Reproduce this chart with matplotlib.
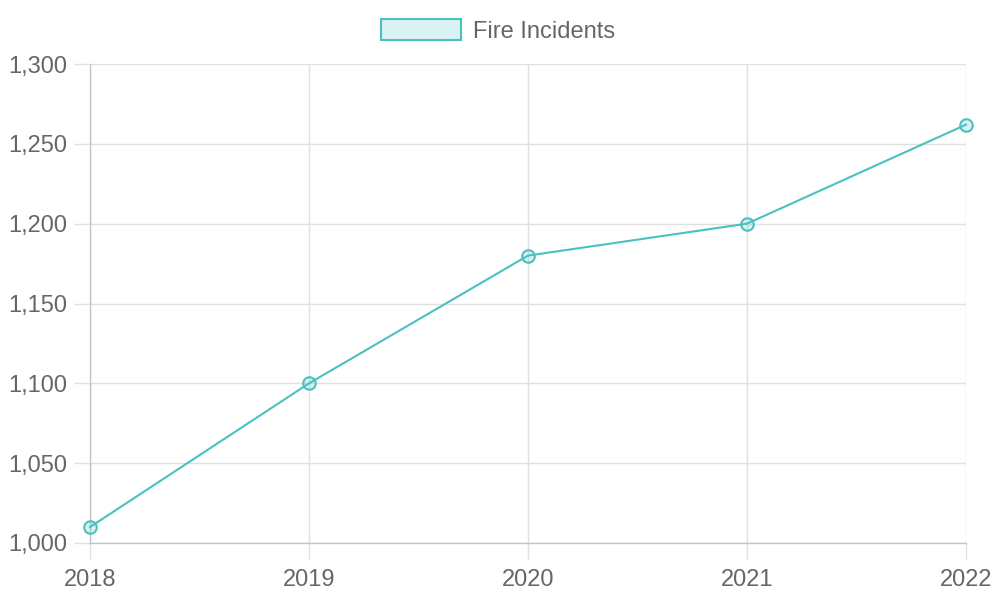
import matplotlib.pyplot as plt
from matplotlib.patches import Patch
from matplotlib.ticker import FuncFormatter

years = [2018, 2019, 2020, 2021, 2022]
incidents = [1010, 1100, 1180, 1200, 1262]
y_ticks = [1000, 1050, 1100, 1150, 1200, 1250, 1300]
series_label = "Fire Incidents"

teal = "#4bc0c0"
teal_fill = (75 / 255, 192 / 255, 192 / 255, 0.2)
text_color = "#666666"
grid_color = "#e0e0e0"
zero_color = "#c4c4c4"

plt.rcParams["font.family"] = ["Liberation Sans", "DejaVu Sans"]

fig = plt.figure(figsize=(10, 6), dpi=100)
ax = fig.add_axes([90 / 1000, 1 - 543 / 600, 876 / 1000, 479 / 600])

ax.plot(years, incidents, color=teal, linewidth=1.5, marker="o", markersize=9,
        markerfacecolor=teal_fill, markeredgecolor=teal, markeredgewidth=1.5,
        clip_on=False, zorder=3)

ax.set_xlim(years[0], years[-1])
ax.set_ylim(y_ticks[0], y_ticks[-1])
ax.set_xticks(years)
ax.set_yticks(y_ticks)
ax.yaxis.set_major_formatter(FuncFormatter(lambda v, p: f"{int(v):,}"))

ax.grid(True, color=grid_color, linewidth=1)
ax.set_axisbelow(True)
for side in ["top", "right"]:
    ax.spines[side].set_visible(False)
for side in ["left", "bottom"]:
    ax.spines[side].set_color(zero_color)
    ax.spines[side].set_linewidth(1)

ax.tick_params(axis="both", length=11.5, width=1, color=grid_color,
               labelcolor=text_color, labelsize=17)
ax.tick_params(axis="y", pad=5)
ax.tick_params(axis="x", pad=7)

handle = Patch(facecolor=teal_fill, edgecolor=teal, linewidth=1.5)
fig.legend([handle], [series_label], loc="center", bbox_to_anchor=(0.498, 1 - 31 / 600),
           frameon=False, fontsize=17, labelcolor=text_color,
           handlelength=3.4, handleheight=1.0, handletextpad=0.5)

fig.savefig("out.png", dpi=100)
